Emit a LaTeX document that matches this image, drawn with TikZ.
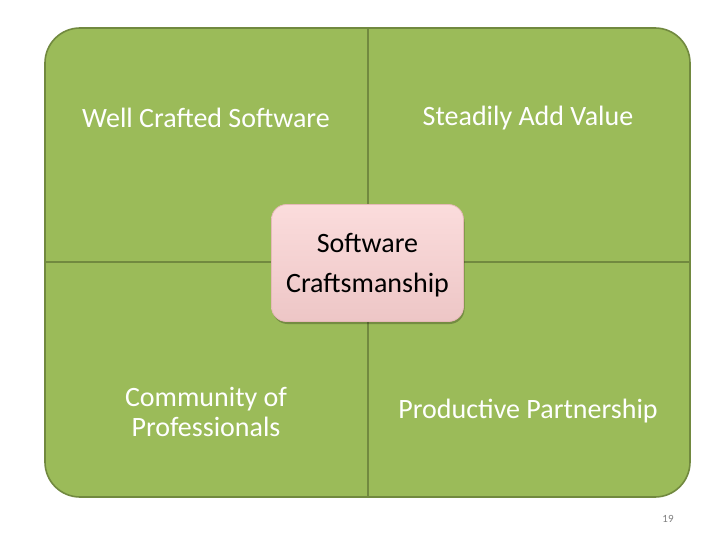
\documentclass[tikz,border=0pt]{standalone}
\usepackage{fontspec}
\setmainfont{Carlito}
\usetikzlibrary{shadows}
\definecolor{quadgreen}{HTML}{9BBB59}
\definecolor{quadedge}{HTML}{71893F}
\definecolor{pinktop}{HTML}{FBDCDC}
\definecolor{pinkbot}{HTML}{EDC6C6}
\definecolor{pinkedge}{HTML}{E6B9B8}
\tikzset{
  quadtext/.style={text=white, font=\fontsize{28}{30}\selectfont, align=center},
  centerbox/.style={rounded corners=15pt, draw=pinkedge, line width=0.8pt,
    top color=pinktop, bottom color=pinkbot,
    drop shadow={shadow xshift=1pt, shadow yshift=-2.5pt, fill=black, opacity=0.25},
    minimum width=192pt, minimum height=117pt, align=center,
    font=\fontsize{28}{40}\selectfont, text=black},
  divider/.style={draw=quadedge, line width=1.2pt}
}
\begin{document}
\begin{tikzpicture}[x=1pt,y=-1pt]
\useasboundingbox (0,0) rectangle (720,540);
\fill[white] (0,0) rectangle (720,540);
\draw[fill=quadgreen, draw=quadedge, line width=1.6pt, rounded corners=35pt] (45,28) rectangle (690,497);
\coordinate (vt) at (368,28);
\coordinate (vb) at (368,497);
\coordinate (hl) at (45,262);
\coordinate (hr) at (690,262);
\draw[divider] (vt) -- (vb);
\draw[divider] (hl) -- (hr);
\node[quadtext] (q1) at (206,118) {Well Crafted Software};
\node[quadtext] (q2) at (528,118) {Steadily Add Value};
\node[quadtext] (q3) at (206,412) {Community of\\Professionals};
\node[quadtext] (q4) at (528,411) {Productive Partnership};
\node[centerbox] (c) at (367.5,263) {};
\node[font=\fontsize{28}{40}\selectfont, align=center] (ct) at (367.5,265) {Software\\Craftsmanship};
\node[text=gray, font=\fontsize{11}{13}\selectfont] (pg) at (668,519) {19};
\end{tikzpicture}
\end{document}
